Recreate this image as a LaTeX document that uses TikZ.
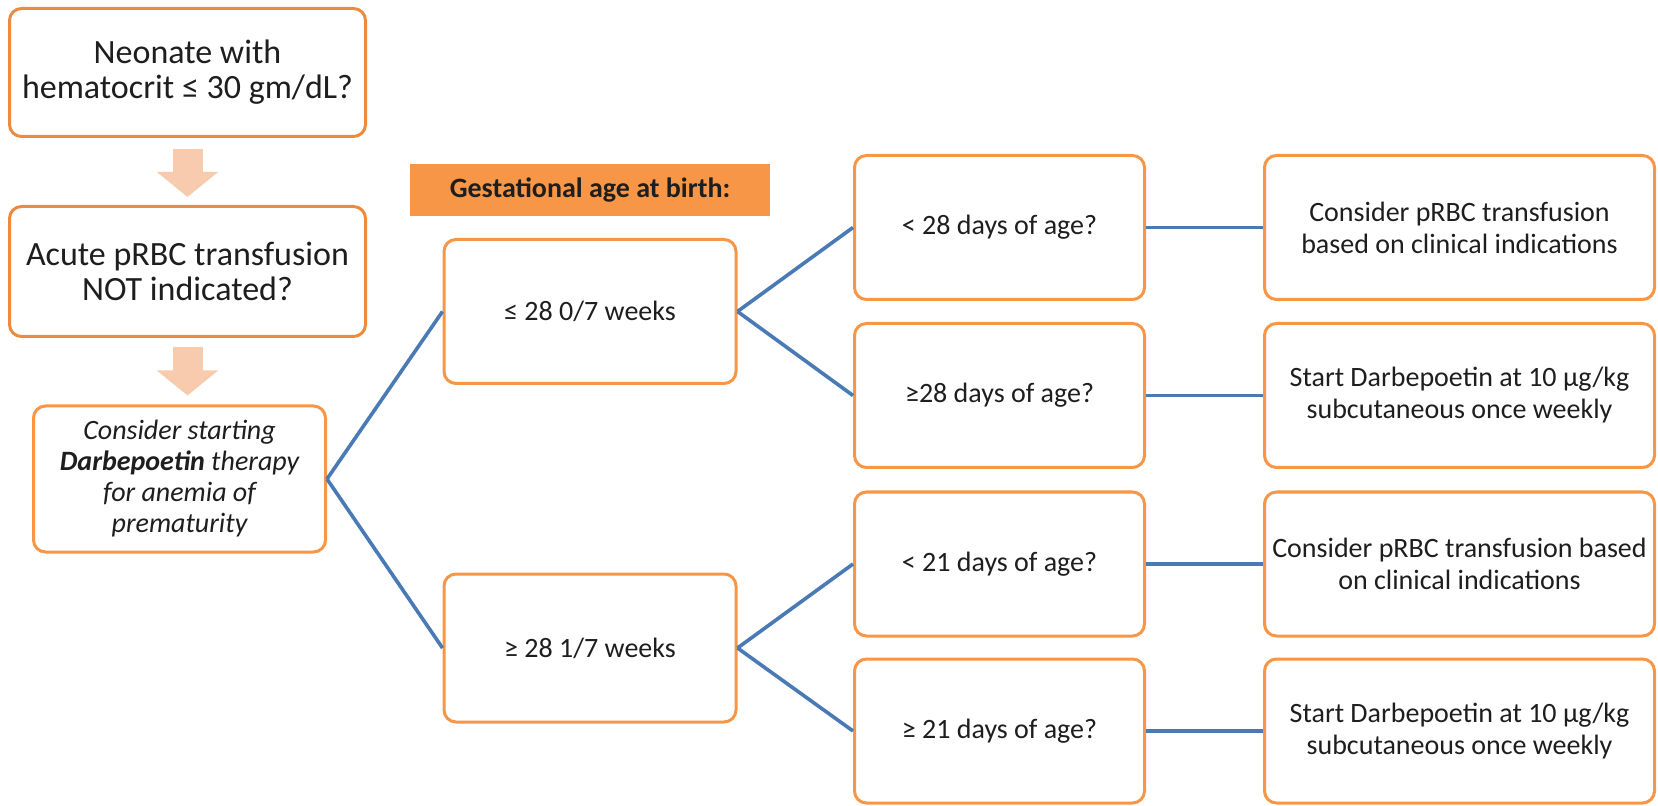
\documentclass[tikz,border=0pt]{standalone}
\usepackage{fontspec}
\setmainfont{Carlito}
\usetikzlibrary{arrows.meta,calc}
\definecolor{orbd}{HTML}{F79646}
\definecolor{orbd2}{HTML}{EC8B40}
\definecolor{hdrfill}{HTML}{F79646}
\definecolor{peach}{HTML}{F9CBAE}
\definecolor{lnblue}{HTML}{4A7AB5}
\definecolor{txt}{HTML}{1E1E1E}
\tikzset{
  box/.style={draw=orbd, line width=1.5pt, rounded corners=6pt, fill=white, align=center, text=txt, inner sep=0pt, font=\fontsize{14}{16}\selectfont},
  bigbox/.style={box, draw=orbd2, font=\fontsize{17}{17.5}\selectfont},
  midbox/.style={box, minimum width=145pt, minimum height=72pt},
  resbox/.style={box, minimum width=195pt, minimum height=72pt},
  conn/.style={draw=lnblue, line width=1.8pt},
  blockarrow/.style={draw=peach, line width=15pt, -{Triangle[width=30pt,length=12.5pt]}},
}
\begin{document}
\begin{tikzpicture}[x=0.5pt,y=-0.5pt]
\useasboundingbox (0,0) rectangle (1658,806);
% left column
\node[bigbox, minimum width=178pt, minimum height=64pt] (b1) at (187.5,72.5) {Neonate with\\hematocrit ≤ 30 gm/dL?};
\node[bigbox, minimum width=178pt, minimum height=65pt] (b2) at (187.5,271.5) {Acute pRBC transfusion\\NOT indicated?};
\node[box, minimum width=146pt, minimum height=73pt, font=\fontsize{14}{15.5}\selectfont\itshape] (b3) at (179.5,479) {Consider starting\\\textbf{Darbepoetin} therapy\\for anemia of\\prematurity};
\draw[blockarrow] ($(b1.south)+(0,11)$) -- ($(b2.north)+(0,-8)$);
\draw[blockarrow] ($(b2.south)+(0,9)$) -- ($(b2.south |- b3.north)+(0,-9)$);
% header
\node[fill=hdrfill, minimum width=180pt, minimum height=26pt, inner sep=0pt, text=txt, font=\bfseries\fontsize{14}{16}\selectfont] (hdr) at (590,190) {Gestational age at birth:};
% gestational age
\node[box, minimum width=146pt, minimum height=72pt] (g1) at (590,311.5) {≤ 28 0/7 weeks};
\node[box, minimum width=146pt, minimum height=74pt] (g2) at (590,648) {≥ 28 1/7 weeks};
% days of age
\node[midbox] (m1) at (999.5,227.5) {< 28 days of age?};
\node[midbox] (m2) at (999.5,395.5) {≥28 days of age?};
\node[midbox] (m3) at (999.5,564) {< 21 days of age?};
\node[midbox] (m4) at (999.5,731) {≥ 21 days of age?};
% results
\node[resbox] (r1) at (1459.5,227.5) {Consider pRBC transfusion\\based on clinical indications};
\node[resbox] (r2) at (1459.5,395.5) {Start Darbepoetin at 10 µg/kg\\subcutaneous once weekly};
\node[resbox] (r3) at (1459.5,564) {Consider pRBC transfusion based\\on clinical indications};
\node[resbox] (r4) at (1459.5,731) {Start Darbepoetin at 10 µg/kg\\subcutaneous once weekly};
% connectors
\draw[conn] (b3.east) -- (g1.west);
\draw[conn] (b3.east) -- (g2.west);
\draw[conn] (g1.east) -- (m1.west);
\draw[conn] (g1.east) -- (m2.west);
\draw[conn] (g2.east) -- (m3.west);
\draw[conn] (g2.east) -- (m4.west);
\draw[conn] (m1.east) -- (r1.west);
\draw[conn] (m2.east) -- (r2.west);
\draw[conn] (m3.east) -- (r3.west);
\draw[conn] (m4.east) -- (r4.west);
\end{tikzpicture}
\end{document}
